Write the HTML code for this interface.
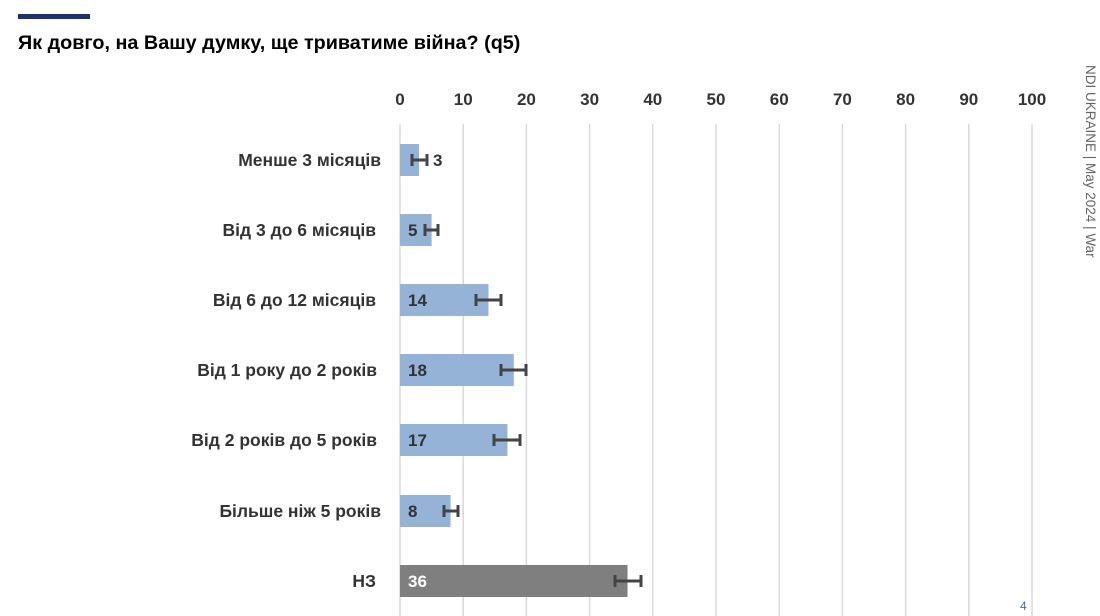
<!DOCTYPE html><html><head><meta charset="utf-8"><style>
body{margin:0;background:#fff;width:1100px;height:616px;overflow:hidden;position:relative;font-family:"Liberation Sans",sans-serif}
</style></head><body>
<svg width="1100" height="616" style="position:absolute;left:0;top:0" font-family="Liberation Sans, sans-serif">
<rect x="18" y="14" width="72" height="5" fill="#1a3370"/>
<text x="18" y="49" font-size="19.8" font-weight="bold" fill="#000">Як довго, на Вашу думку, ще триватиме війна? (q5)</text>
<g stroke="#d9d9d9" stroke-width="1.5">
<line x1="400" y1="124" x2="400" y2="616"/><line x1="463.2" y1="124" x2="463.2" y2="616"/><line x1="526.4" y1="124" x2="526.4" y2="616"/><line x1="589.6" y1="124" x2="589.6" y2="616"/><line x1="652.8" y1="124" x2="652.8" y2="616"/><line x1="716" y1="124" x2="716" y2="616"/><line x1="779.2" y1="124" x2="779.2" y2="616"/><line x1="842.4" y1="124" x2="842.4" y2="616"/><line x1="905.6" y1="124" x2="905.6" y2="616"/><line x1="968.8" y1="124" x2="968.8" y2="616"/><line x1="1032" y1="124" x2="1032" y2="616"/>
</g>
<g font-size="17" font-weight="bold" fill="#333" text-anchor="middle">
<text x="400" y="105">0</text><text x="463.2" y="105">10</text><text x="526.4" y="105">20</text><text x="589.6" y="105">30</text><text x="652.8" y="105">40</text><text x="716" y="105">50</text><text x="779.2" y="105">60</text><text x="842.4" y="105">70</text><text x="905.6" y="105">80</text><text x="968.8" y="105">90</text><text x="1032" y="105">100</text>
</g>
<g font-size="17.5" font-weight="bold" fill="#333" text-anchor="end">
<text x="381" y="166">Менше 3 місяців</text>
<text x="376" y="236">Від 3 до 6 місяців</text>
<text x="376" y="306">Від 6 до 12 місяців</text>
<text x="377" y="376">Від 1 року до 2 років</text>
<text x="377" y="446">Від 2 років до 5 років</text>
<text x="381" y="517">Більше ніж 5 років</text>
<text x="376" y="587">НЗ</text>
</g>
<g fill="#95b3d7">
<rect x="400" y="144" width="19" height="32"/>
<rect x="400" y="214" width="31.6" height="32"/>
<rect x="400" y="284" width="88.5" height="32"/>
<rect x="400" y="354" width="113.8" height="32"/>
<rect x="400" y="424" width="107.4" height="32"/>
<rect x="400" y="495" width="50.6" height="32"/>
</g>
<rect x="400" y="565" width="227.5" height="32" fill="#7f7f7f"/>
<g stroke="#444" stroke-width="3" fill="none">
<path d="M412 160H427M412 154V166M427 154V166"/>
<path d="M425 230H438M425 224V236M438 224V236"/>
<path d="M476 300H501M476 294V306M501 294V306"/>
<path d="M501 370H526M501 364V376M526 364V376"/>
<path d="M494 440H520M494 434V446M520 434V446"/>
<path d="M444 511H458M444 505V517M458 505V517"/>
<path d="M615 581H641M615 575V587M641 575V587"/>
</g>
<g font-size="17" font-weight="bold" fill="#333">
<text x="433" y="166">3</text>
<text x="408" y="236">5</text>
<text x="408" y="306">14</text>
<text x="408" y="376">18</text>
<text x="408" y="446">17</text>
<text x="408" y="517">8</text>
<text x="408" y="587" fill="#fff">36</text>
</g>
<text transform="translate(1086,65) rotate(90)" font-size="13.5" fill="#666">NDI UKRAINE | May 2024 | War</text>
<text x="1020" y="610" font-size="12" fill="#4a6a96">4</text>
</svg>
</body></html>
